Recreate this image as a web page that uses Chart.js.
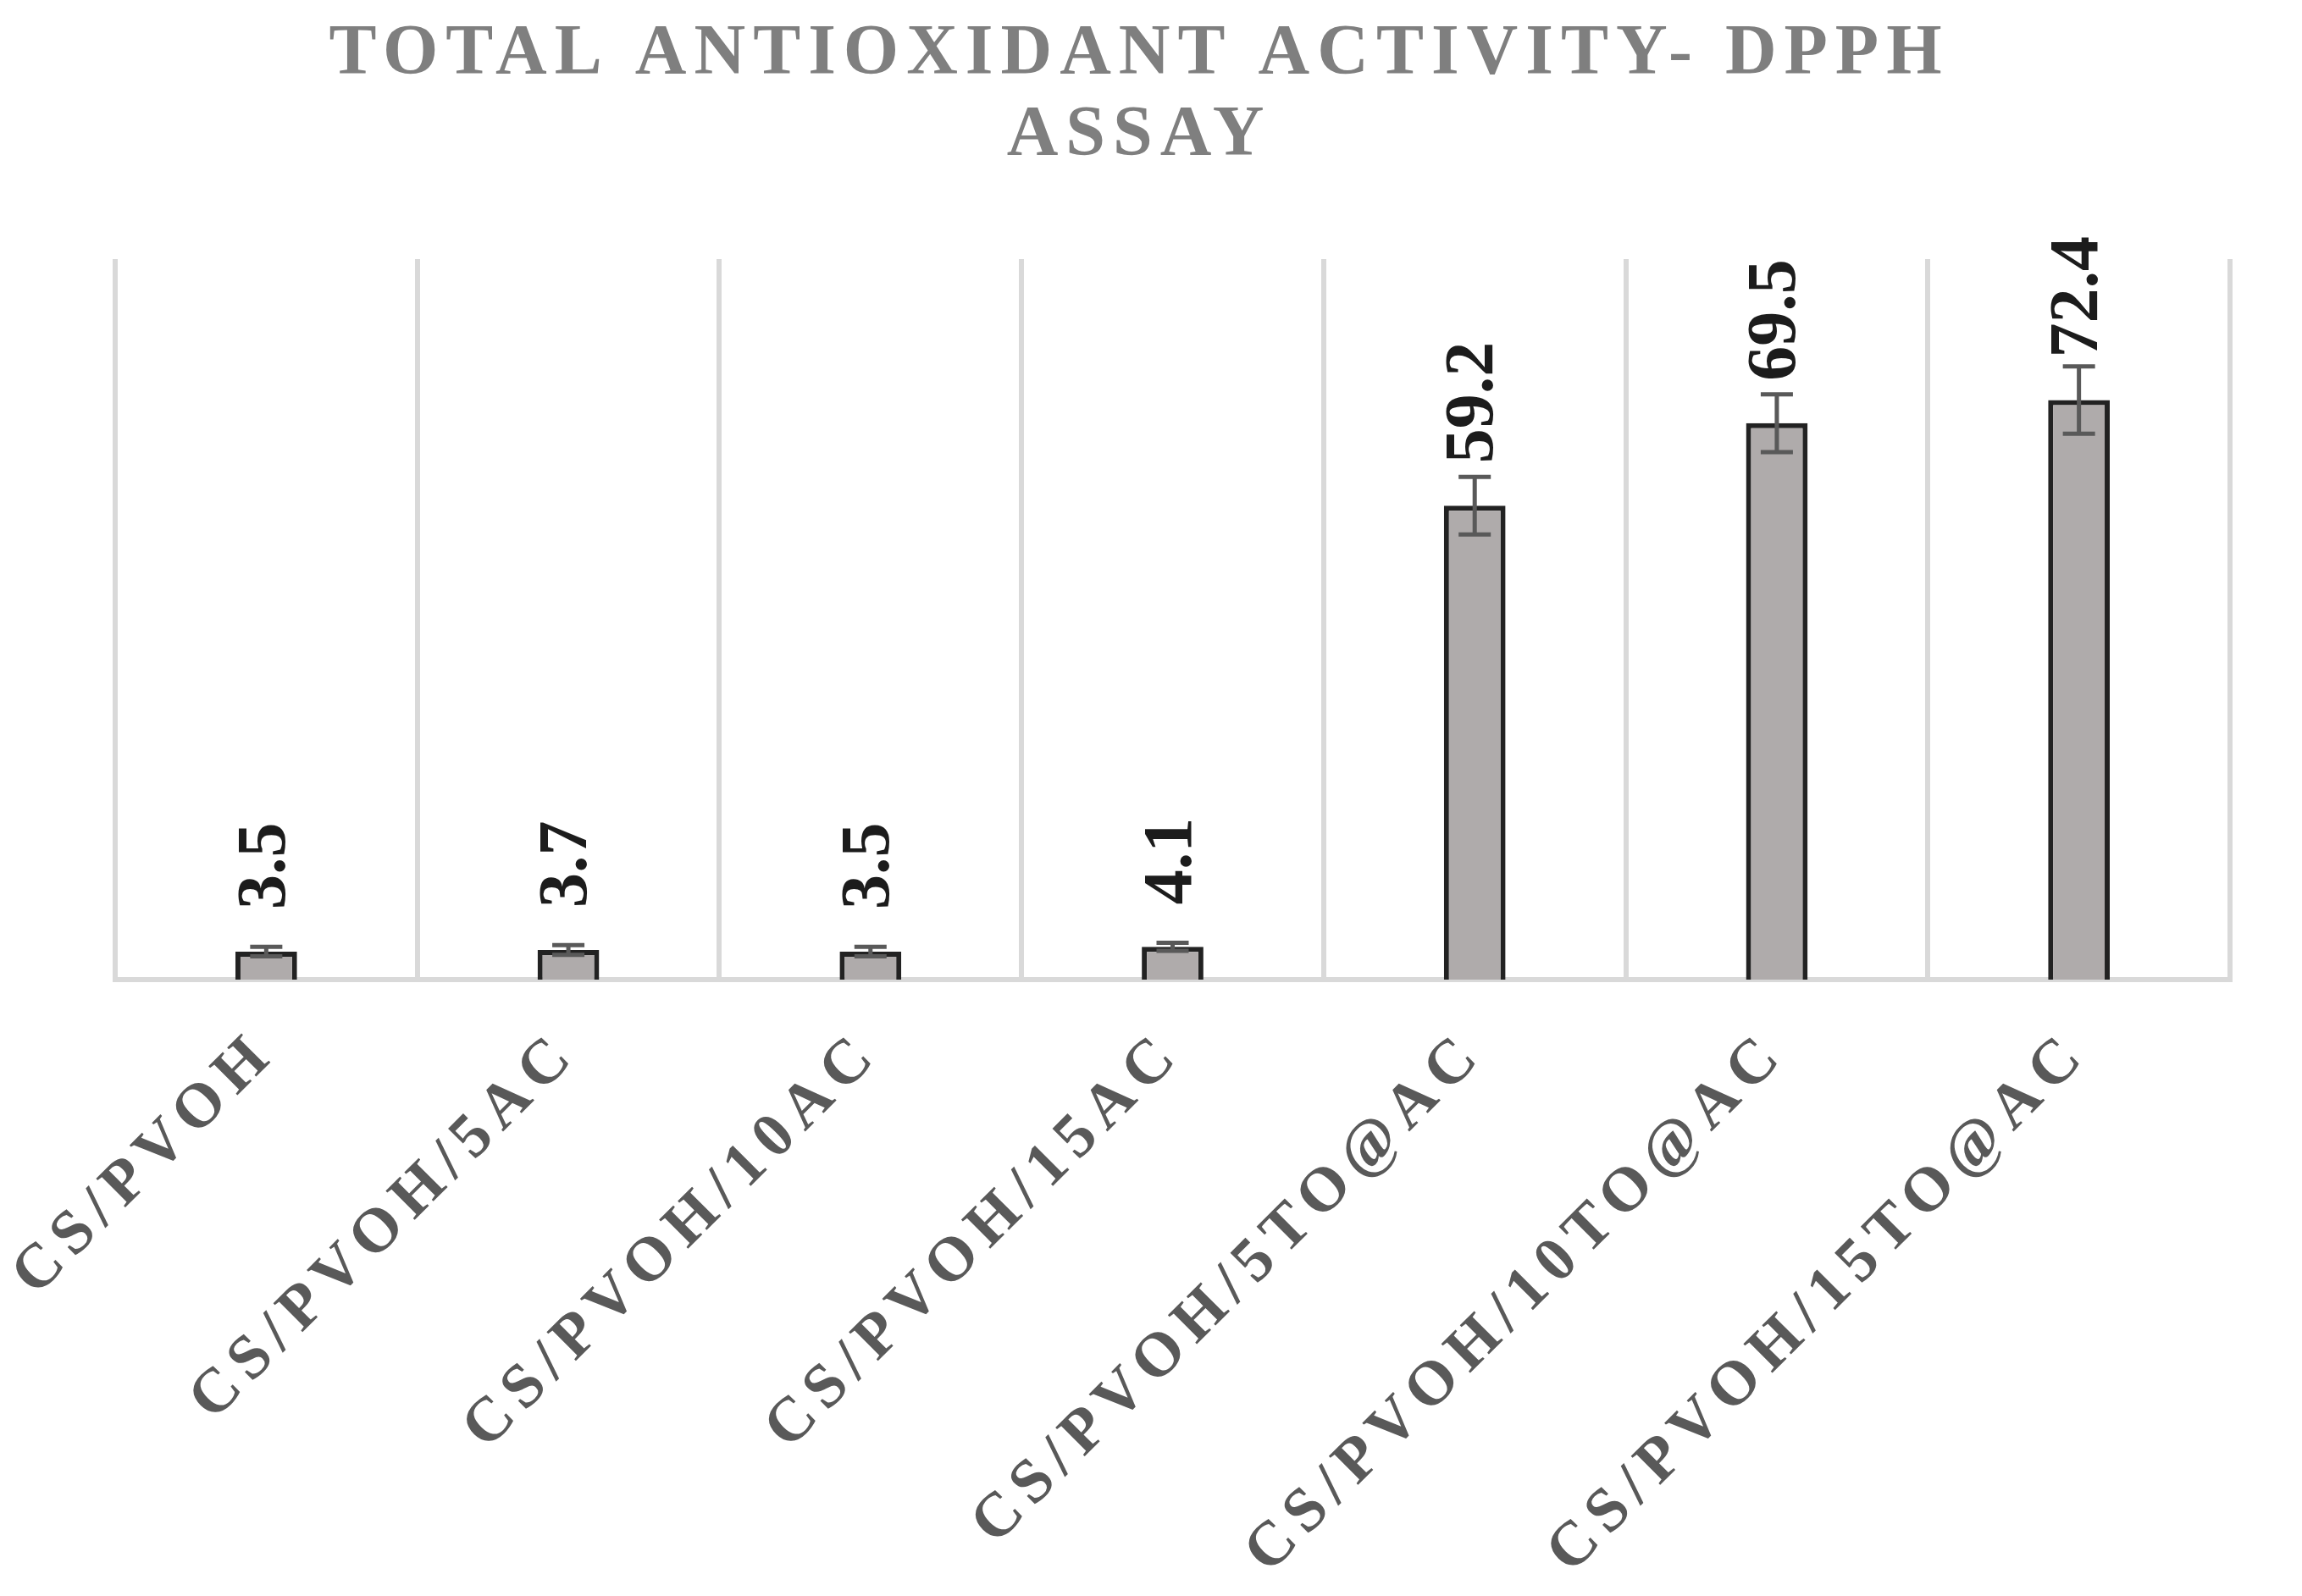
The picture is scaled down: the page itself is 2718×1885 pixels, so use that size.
<!DOCTYPE html>
<html>
<head>
<meta charset="utf-8">
<script src="https://cdn.jsdelivr.net/npm/chart.js@4.4.1/dist/chart.umd.min.js"></script>
<style>
  html, body { margin: 0; padding: 0; background: #fff; }
  #wrap { width: 2718px; height: 1885px; }
</style>
</head>
<body>
<div id="wrap"><canvas id="dpphChart"></canvas></div>
<script>
// DPPH assay
const categories = ['CS/PVOH', 'CS/PVOH/5AC', 'CS/PVOH/10AC', 'CS/PVOH/15AC',
    'CS/PVOH/5TO@AC', 'CS/PVOH/10TO@AC', 'CS/PVOH/15TO@AC'];
const activity = [3.5, 3.7, 3.5, 4.1, 59.2, 69.5, 72.4];
const activityErr = [0.6, 0.6, 0.6, 0.5, 3.6, 3.6, 4.2];
const titleLines = ['TOTAL ANTIOXIDANT ACTIVITY- DPPH', 'ASSAY'];

const SERIF = "'Liberation Serif', 'Times New Roman', serif";

// draw a method of a chart element with canvas letter spacing
function withSpacing(obj, method, spacing) {
    if (!obj || obj['_sp_' + method]) return;
    const orig = obj[method];
    obj[method] = function (...args) {
        const ctx = this.ctx;
        ctx.save();
        ctx.letterSpacing = spacing;
        orig.apply(this, args);
        ctx.restore();
    };
    obj['_sp_' + method] = true;
}

const spacingPlugin = {
    id: 'spacing',
    beforeDraw(chart) {
        withSpacing(chart.titleBlock, 'draw', '9px');
        withSpacing(chart.scales.x, 'drawLabels', '11px');
    }
};

// ── Error bars + rotated value labels ─────────────────────────
const barExtras = {
    id: 'barExtras',
    afterDatasetsDraw(chart) {
        const { ctx } = chart;
        const y = chart.scales.y;
        const meta = chart.getDatasetMeta(0);
        ctx.save();
        ctx.strokeStyle = '#595959';
        ctx.lineWidth = 5;
        meta.data.forEach((bar, i) => {
            const top = y.getPixelForValue(activity[i] + activityErr[i]);
            const bot = y.getPixelForValue(activity[i] - activityErr[i]);
            ctx.beginPath();
            ctx.moveTo(bar.x, top); ctx.lineTo(bar.x, bot);
            ctx.moveTo(bar.x - 19, top); ctx.lineTo(bar.x + 19, top);
            ctx.moveTo(bar.x - 19, bot); ctx.lineTo(bar.x + 19, bot);
            ctx.stroke();
        });
        ctx.fillStyle = '#1c1c1c';
        ctx.font = 'bold 82px ' + SERIF;
        ctx.textAlign = 'left';
        ctx.textBaseline = 'middle';
        meta.data.forEach((bar, i) => {
            ctx.save();
            ctx.translate(bar.x, bar.y - 50);
            ctx.rotate(-Math.PI / 2);
            ctx.fillText(activity[i].toFixed(1), 0, 0);
            ctx.restore();
        });
        ctx.restore();
    }
};

new Chart(document.getElementById('dpphChart'), {
    type: 'bar',
    data: {
        labels: categories,
        datasets: [{
            label: 'DPPH',
            data: activity,
            backgroundColor: '#afabab',
            borderColor: '#222222',
            borderWidth: 6,
            categoryPercentage: 1,
            barPercentage: 0.204,
        }]
    },
    options: {
        responsive: true, maintainAspectRatio: false,
        devicePixelRatio: 1,
        animation: false,
        layout: { padding: { left: 57, right: 85, top: 0, bottom: 0 } },
        plugins: {
            legend: { display: false },
            tooltip: { enabled: false },
            title: {
                display: true,
                text: titleLines,
                color: '#7f7f7f',
                font: { family: SERIF, size: 84, weight: 'bold', lineHeight: 96 / 84 },
                padding: { top: 17, bottom: 97 }
            }
        },
        scales: {
            // invisible spacer axis, keeps the plot where the original had it
            y: {
                min: 0, max: 90,
                ticks: { display: false },
                grid: { display: false },
                border: { display: false },
                afterFit: s => { s.width = 79; }
            },
            x: {
                offset: true,
                grid: { offset: true, color: '#d9d9d9', lineWidth: 6, drawTicks: false },
                border: { color: '#d9d9d9', width: 6 },
                ticks: {
                    color: '#595959',
                    font: { family: SERIF, size: 74, weight: 'bold' },
                    minRotation: 45, maxRotation: 45,
                    padding: 44,
                    autoSkip: false
                },
                afterFit: s => { s.height = 1885 - 1157; }
            }
        }
    },
    plugins: [spacingPlugin, barExtras]
});
</script>
</body>
</html>
